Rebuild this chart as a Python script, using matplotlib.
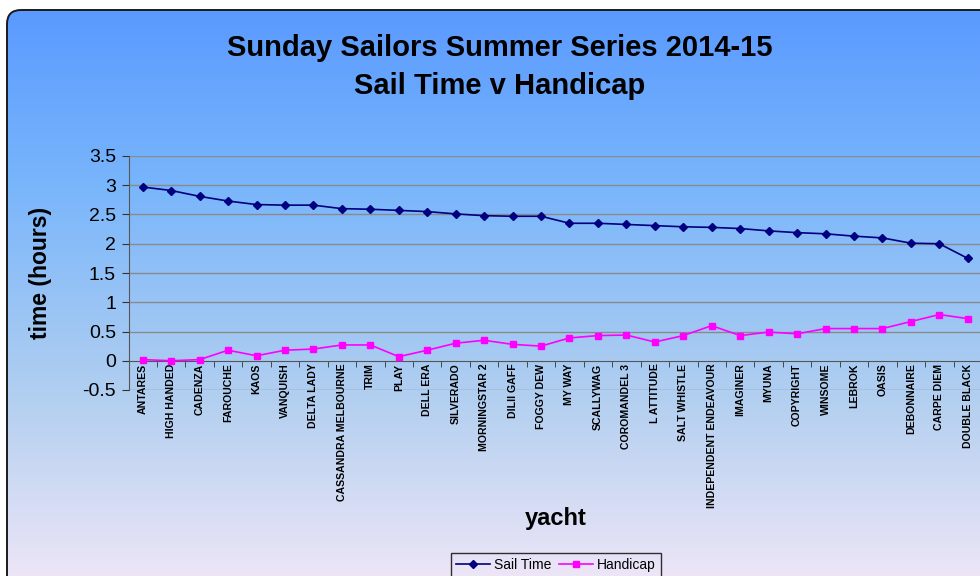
import numpy as np
import matplotlib
matplotlib.use("Agg")
import matplotlib.pyplot as plt
from matplotlib.patches import FancyBboxPatch
from matplotlib.lines import Line2D
from matplotlib.colors import LinearSegmentedColormap

plt.rcParams["font.family"] = ["Liberation Sans", "DejaVu Sans"]

# ---- data --------------------------------------------------------------------
YACHTS = ["ANTARES", "HIGH HANDED", "CADENZA", "FAROUCHE", "KAOS", "VANQUISH",
          "DELTA LADY", "CASSANDRA MELBOURNE", "TRIM", "PLAY", "DELL ERA",
          "SILVERADO", "MORNINGSTAR 2", "DILII GAFF", "FOGGY DEW", "MY WAY",
          "SCALLYWAG", "COROMANDEL 3", "L ATTITUDE", "SALT WHISTLE",
          "INDEPENDENT ENDEAVOUR", "IMAGINER", "MYUNA", "COPYRIGHT", "WINSOME",
          "LEBROK", "OASIS", "DEBONNAIRE", "CARPE DIEM", "DOUBLE BLACK"]
SAIL_TIME = [2.97, 2.91, 2.81, 2.73, 2.67, 2.66, 2.66, 2.60, 2.59, 2.57, 2.55,
             2.51, 2.48, 2.47, 2.47, 2.35, 2.35, 2.33, 2.31, 2.29, 2.28, 2.26,
             2.22, 2.19, 2.17, 2.13, 2.10, 2.01, 2.00, 1.75]
HANDICAP = [0.02, 0.00, 0.02, 0.18, 0.085, 0.18, 0.20, 0.27, 0.27, 0.07, 0.18,
            0.30, 0.35, 0.28, 0.25, 0.39, 0.43, 0.44, 0.32, 0.43, 0.60, 0.43,
            0.49, 0.46, 0.55, 0.55, 0.55, 0.67, 0.79, 0.72]
YTICKS = [-0.5, 0, 0.5, 1, 1.5, 2, 2.5, 3, 3.5]

W, H = 980, 576
NAVY = "#000080"
MAGENTA = "#ff00ff"
GRID = "#8a8a8a"

fig = plt.figure(figsize=(W / 100, H / 100), dpi=100)
fig.patch.set_facecolor("white")

# ---- rounded chart area with vertical gradient --------------------------------
bg = fig.add_axes([0, 0, 1, 1])
bg.set_xlim(0, W)
bg.set_ylim(H, 0)
bg.axis("off")
cmap = LinearSegmentedColormap.from_list(
    "sky", [(0.0, "#5a9aff"), (0.3, "#7ab6fb"), (0.65, "#b2cff0"), (1.0, "#f6e9f8")])
grad = np.linspace(0, 1, 256).reshape(-1, 1)
img = bg.imshow(grad, cmap=cmap, aspect="auto", extent=(7, W + 30, H + 30, 10),
                zorder=0)
box = FancyBboxPatch((7, 10), W + 30, H + 30, boxstyle="round,pad=0,rounding_size=14",
                     fc="none", ec="#1a1a1a", lw=1.4, zorder=1)
bg.add_patch(box)
img.set_clip_path(box)

# ---- plot area ---------------------------------------------------------------
L, R, T, B = 128.5, 982, 156, 390
ax = fig.add_axes([L / W, 1 - B / H, (R - L) / W, (B - T) / H])
ax.patch.set_alpha(0)
x = np.arange(len(YACHTS))
ax.set_xlim(-0.5, len(YACHTS) - 0.5)
ax.set_ylim(-0.5, 3.5)

for yv in YTICKS:
    if yv != 0:
        ax.axhline(yv, color=GRID, lw=1.0, zorder=1)

ax.plot(x, SAIL_TIME, color=NAVY, lw=1.2, marker="D", ms=4.5, zorder=3)
ax.plot(x, HANDICAP, color=MAGENTA, lw=1.2, marker="s", ms=5, zorder=3)

for s in ("top", "right"):
    ax.spines[s].set_visible(False)
ax.spines["left"].set_color("#555555")
ax.spines["bottom"].set_color("#555555")
ax.spines["bottom"].set_position(("data", 0))

ax.set_yticks(YTICKS)
ax.set_yticklabels([f"{v:g}" for v in YTICKS], fontsize=14)
ax.tick_params(axis="y", direction="out", length=5, color="#333333", pad=4)

ax.set_xticks(x)
ax.set_xticklabels(YACHTS, rotation=90, fontsize=7.6, fontweight="bold", va="top")
ax.set_xticks(x[:-1] + 0.5, minor=True)
ax.tick_params(axis="x", which="major", length=0, pad=2)
ax.tick_params(axis="x", which="minor", direction="out", length=4, color="#333333")

# ---- text ---------------------------------------------------------------------
fig.text(500 / W, 1 - 48 / H, "Sunday Sailors Summer Series 2014-15", ha="center",
         va="center", fontsize=21, fontweight="bold")
fig.text(500 / W, 1 - 86 / H, "Sail Time v Handicap", ha="center", va="center",
         fontsize=21, fontweight="bold")
fig.text(40 / W, 1 - 273 / H, "time (hours)", rotation=90, ha="center", va="center",
         fontsize=16.5, fontweight="bold")
fig.text(556 / W, 1 - 519 / H, "yacht", ha="center", va="center", fontsize=17,
         fontweight="bold")

handles = [Line2D([], [], color=NAVY, marker="D", ms=4, lw=1.2),
           Line2D([], [], color=MAGENTA, marker="s", ms=4.5, lw=1.2)]
leg = fig.legend(handles, ["Sail Time", "Handicap"], loc="upper center",
                 bbox_to_anchor=(556 / W, 1 - 546 / H), ncol=2, fontsize=10,
                 frameon=True, fancybox=False, handlelength=2.4,
                 columnspacing=0.6, handletextpad=0.3, borderpad=0.35)
frame = leg.get_frame()
frame.set_facecolor("none")
frame.set_edgecolor("black")
frame.set_linewidth(1.0)

fig.savefig("out.png", dpi=100)
